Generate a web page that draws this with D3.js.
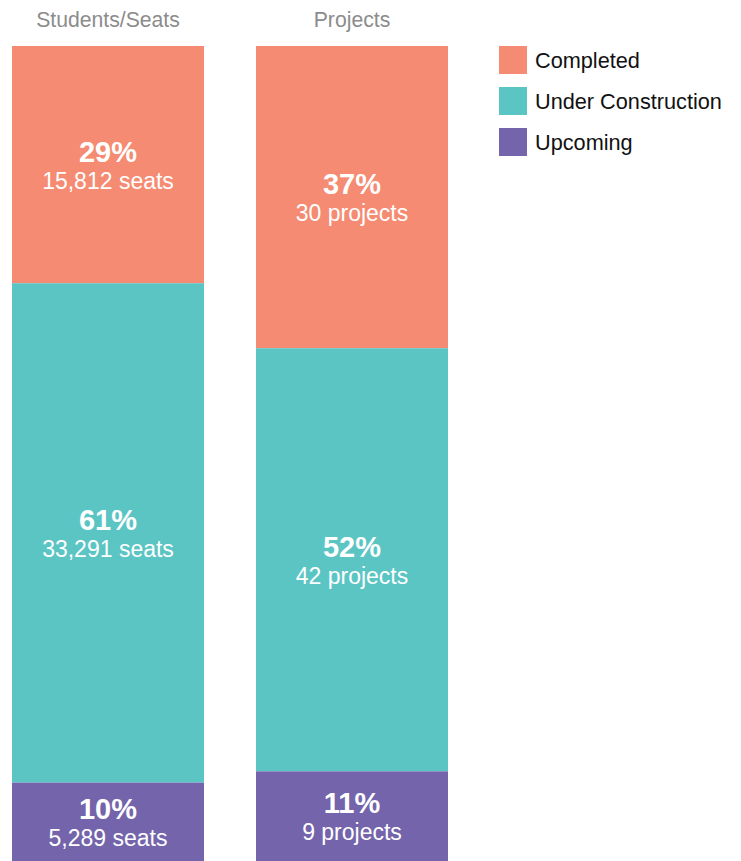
<!DOCTYPE html>
<html>
<head>
<meta charset="utf-8">
<script src="https://cdn.jsdelivr.net/npm/d3@7"></script>
<style>
  html, body { margin: 0; padding: 0; background: #fff; }
  svg { display: block; font-family: "Helvetica Neue", Helvetica, "Liberation Sans", Arial, sans-serif; }
</style>
</head>
<body>
<svg id="chart" width="741" height="861"></svg>
<script>
const categories = ["Completed", "Under Construction", "Upcoming"];
const columns = ["Students/Seats", "Projects"];
const seats = [15812, 33291, 5289];
const projects = [30, 42, 9];
const units = ["seats", "projects"];
const colors = ["#F58B72", "#5BC5C4", "#7464AB"];

const seriesByColumn = [seats, projects];

(function () {
const svg = d3.select("#chart");
const W = 741, H = 861;
const barTop = 46, barBottom = 862;

const x = d3.scaleBand().domain(columns).range([12, 448]).paddingInner(52 / 244).paddingOuter(0);
const color = d3.scaleOrdinal().domain(categories).range(colors);
const fmtNum = d3.format(",");
const fmtPct = d3.format(".0%");

columns.forEach((col, ci) => {
  const vals = seriesByColumn[ci];
  const total = d3.sum(vals);
  const y = d3.scaleLinear().domain([0, total]).range([barTop, barBottom]);
  let cum = 0;
  const segs = vals.map((v, i) => {
    const s = { cat: categories[i], v, y0: cum, y1: cum + v };
    cum += v;
    return s;
  });

  const g = svg.append("g");
  g.append("text")
    .attr("x", x(col) + x.bandwidth() / 2)
    .attr("y", 27)
    .attr("text-anchor", "middle")
    .attr("fill", "#8c8c8c")
    .attr("font-size", 21.2)
    .attr("font-weight", 300)
    .text(col);

  g.selectAll("rect.seg").data(segs).join("rect")
    .attr("class", "seg")
    .attr("x", x(col))
    .attr("width", x.bandwidth())
    .attr("y", d => y(d.y0))
    .attr("height", d => y(d.y1) - y(d.y0))
    .attr("fill", d => color(d.cat));

  const labels = g.selectAll("g.lab").data(segs).join("g")
    .attr("class", "lab")
    .attr("transform", d => `translate(${x(col) + x.bandwidth() / 2},${(y(d.y0) + Math.min(y(d.y1), H)) / 2})`);
  labels.append("text")
    .attr("y", -3)
    .attr("text-anchor", "middle")
    .attr("fill", "#fff")
    .attr("font-weight", "bold")
    .attr("font-size", 29)
    .text(d => fmtPct(d.v / total));
  labels.append("text")
    .attr("y", 24)
    .attr("text-anchor", "middle")
    .attr("fill", "#fff")
    .attr("font-size", 23)
    .text(d => `${fmtNum(d.v)} ${units[ci]}`);
});

const legend = svg.append("g").attr("transform", "translate(499,46)");
const items = legend.selectAll("g").data(categories).join("g")
  .attr("transform", (d, i) => `translate(0,${i * 41})`);
items.append("rect").attr("width", 28).attr("height", 28).attr("fill", d => color(d));
items.append("text")
  .attr("x", 36).attr("y", 22)
  .attr("fill", "#111")
  .attr("font-size", 21.7)
  .text(d => d);
})();
</script>
</body>
</html>
